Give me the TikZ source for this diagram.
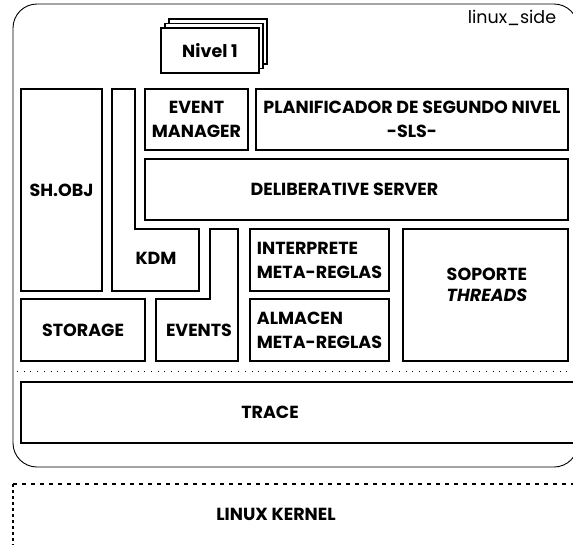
\documentclass[tikz,border=0pt]{standalone}
\usepackage{fontspec}
\setmainfont{Poppins}
\begin{document}
\begin{tikzpicture}[x=1pt,y=-1pt,
  blk/.style={draw,line width=1.3pt,rectangle,inner sep=0pt,align=center,font=\fontsize{17.5}{24}\selectfont\bfseries},
  lbl/.style={inner sep=0pt,align=center,font=\fontsize{17.5}{24}\selectfont\bfseries},
  poly/.style={draw,line width=1.3pt,line join=miter}]
\useasboundingbox (0,0) rectangle (573,544);
\clip (0,0) rectangle (573,544);
% outer rounded container
\draw[line width=0.9pt,rounded corners=24pt] (13,4) rectangle (578,467);
\node[inner sep=0pt,font=\fontsize{17.5}{20}\selectfont] (side) at (512,18) {linux\_side};
% Nivel 1 stack
\node[blk,fill=white,minimum width=98pt,minimum height=45pt] (nivC) at (218,41.5) {};
\node[blk,fill=white,minimum width=98pt,minimum height=45pt] (nivB) at (214,46) {};
\node[blk,fill=white,minimum width=98pt,minimum height=45pt] (niv1) at (210,50.5) {Nivel 1};
% left column
\node[blk,minimum width=81pt,minimum height=202pt] (shobj) at (61.5,190) {SH.OBJ};
\draw[poly] (112,89) -- (135,89) -- (135,229) -- (199,229) -- (199,291) -- (112,291) -- cycle;
\node[lbl] (kdm) at (156,258) {KDM};
\node[blk,minimum width=124pt,minimum height=62pt] (storage) at (83,330) {STORAGE};
\draw[poly] (210,229) -- (238,229) -- (238,361) -- (156,361) -- (156,299) -- (210,299) -- cycle;
\node[lbl] (events) at (199,330) {EVENTS};
% top row
\node[blk,minimum width=103pt,minimum height=61pt] (evm) at (196.5,119.5) {EVENT\\MANAGER};
\node[blk,minimum width=312pt,minimum height=61pt] (sls) at (412,119.5) {PLANIFICADOR DE SEGUNDO NIVEL\\-SLS-};
\node[blk,minimum width=423pt,minimum height=61pt] (delib) at (356.5,189.5) {\hspace*{-24pt}DELIBERATIVE SERVER};
% meta-rules
\node[blk,align=left,minimum width=139pt,minimum height=62pt] (interp) at (319.5,260) {INTERPRETE\\META-REGLAS};
\node[blk,align=left,minimum width=139pt,minimum height=62pt] (alm) at (319.5,330) {ALMACEN\\META-REGLAS};
\node[blk,minimum width=165pt,minimum height=132pt] (sop) at (485.5,295) {};
\node[lbl,align=left,font=\fontsize{17.5}{21}\selectfont\bfseries] (soplbl) at (487,285) {SOPORTE\\\textit{THREADS}};
% separator
\coordinate (sepL) at (17,371);
\coordinate (sepR) at (600,371);
\draw[line width=0.8pt,dash pattern=on 0.9pt off 5.8pt] (sepL) -- (sepR);
% trace
\node[blk,minimum width=580pt,minimum height=61pt] (trace) at (311,412.5) {};
\node[lbl] (tracelbl) at (270,412) {TRACE};
% linux kernel
\coordinate (kTL) at (13,484);
\coordinate (kTR) at (600,484);
\coordinate (kBL) at (13,560);
\draw[line width=1.1pt,dash pattern=on 4pt off 5pt] (kTL) -- (kTR);
\draw[line width=1.1pt,dash pattern=on 2.5pt off 3.5pt] (kTL) -- (kBL);
\node[lbl] (kernel) at (276,514) {LINUX KERNEL};
\end{tikzpicture}
\end{document}
